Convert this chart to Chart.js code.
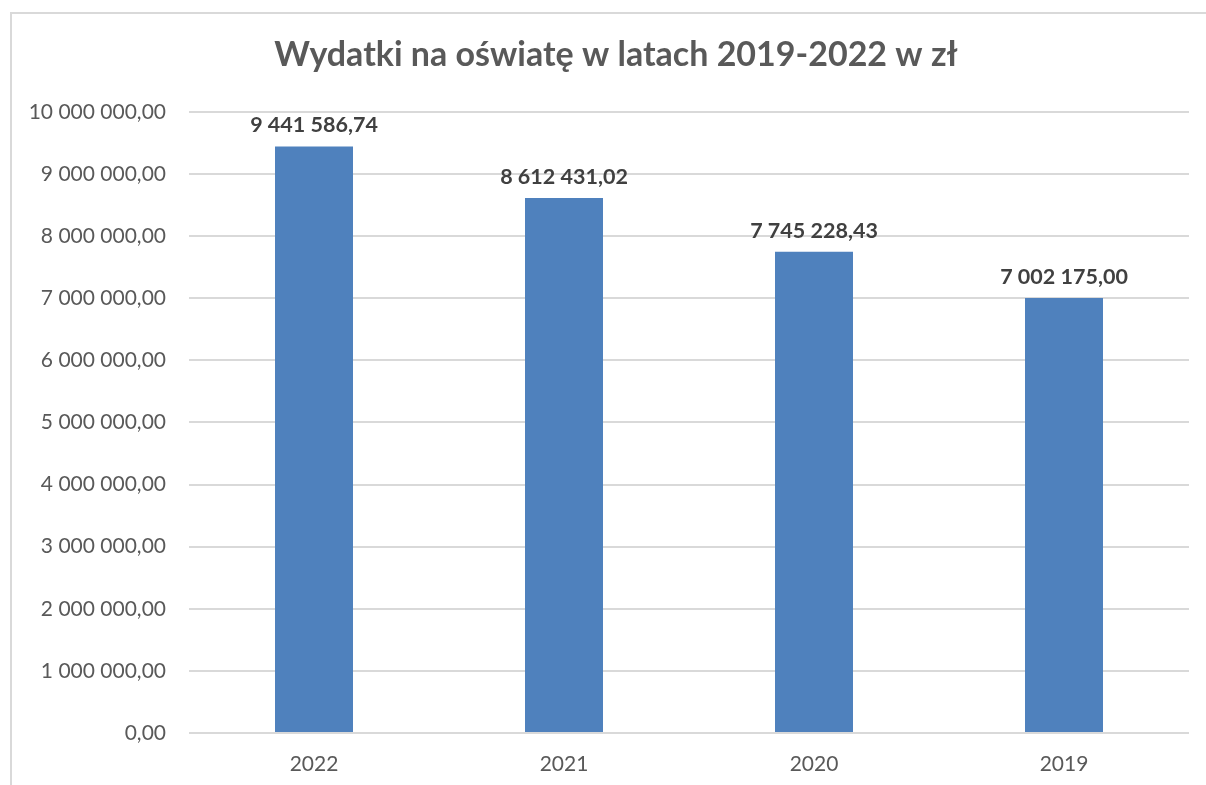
<!DOCTYPE html>
<html>
<head>
<meta charset="utf-8">
<script src="https://cdn.jsdelivr.net/npm/chart.js@4"></script>
<style>
  body { margin: 0; background: #fff; overflow: hidden; }
  #frame { position: absolute; left: 10px; top: 12px; width: 1260px; height: 830px; border: 2px solid #d9d9d9; }
  #chart { position: absolute; left: 0; top: 0; }
</style>
</head>
<body>
<div id="frame"><canvas id="chart" width="1208" height="771"></canvas></div>
<script>
// Data
const years = ['2022', '2021', '2020', '2019'];
const spending = [9441586.74, 8612431.02, 7745228.43, 7002175.00];
const chartTitle = 'Wydatki na oświatę w latach 2019-2022 w zł';

// Polish number format: "9 441 586,74"
function formatPl(v){
    const parts = v.toFixed(2).split('.');
    const int = parts[0].replace(/\B(?=(\d{3})+(?!\d))/g, ' ');
    return int + ',' + parts[1];
}

// Value labels above bars
const barLabels = {
    id: 'barLabels',
    afterDatasetsDraw(chart){
        const ctx = chart.ctx;
        const meta = chart.getDatasetMeta(0);
        ctx.save();
        ctx.font = 'bold 21.5px Lato';
        ctx.fillStyle = '#404040';
        ctx.textAlign = 'center';
        ctx.textBaseline = 'middle';
        meta.data.forEach((bar, i) => {
            ctx.fillText(formatPl(chart.data.datasets[0].data[i]), bar.x, bar.y - 21);
        });
        ctx.restore();
    }
};

const ctx = document.getElementById('chart').getContext('2d');
new Chart(ctx, {
    type: 'bar',
    data: {
        labels: years,
        datasets: [{
            label: 'Wydatki',
            data: spending,
            backgroundColor: '#4F81BD',
            categoryPercentage: 1,
            barPercentage: 0.312
        }]
    },
    options: {
        responsive: false,
        animation: false,
        layout: { padding: 0 },
        plugins: {
            legend: { display: false },
            tooltip: { enabled: false },
            title: {
                display: true,
                text: chartTitle,
                color: '#595959',
                font: { family: 'Lato', size: 34, weight: 'bold', lineHeight: 1.2 },
                padding: { top: 21, bottom: 36 }
            }
        },
        scales: {
            x: {
                grid: { display: false },
                border: { display: false },
                ticks: { color: '#595959', font: { family: 'Lato', size: 21 }, padding: 11 },
                afterFit(scale){ scale.height = 52; }
            },
            y: {
                min: 0,
                max: 10000000,
                border: { display: false },
                grid: { color: '#d9d9d9', lineWidth: 2, drawTicks: false },
                ticks: {
                    stepSize: 1000000,
                    color: '#595959',
                    font: { family: 'Lato', size: 21 },
                    padding: 23,
                    callback: v => formatPl(v)
                },
                afterFit(scale){ scale.width = 177; }
            },
            // empty right margin of the plot (keeps the title centred on the whole chart)
            yRight: {
                position: 'right',
                grid: { display: false },
                border: { display: false },
                ticks: { display: false },
                afterFit(scale){ scale.width = 31; }
            }
        }
    },
    plugins: [barLabels]
});
</script>
</body>
</html>
